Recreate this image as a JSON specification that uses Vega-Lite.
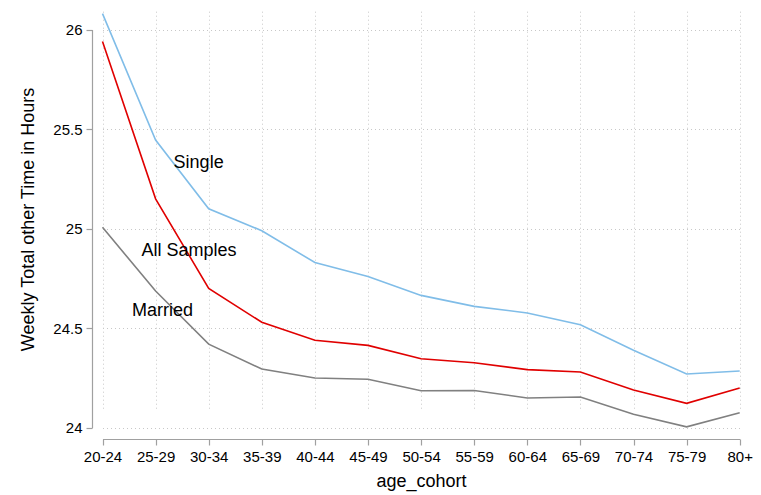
{
  "$schema": "https://vega.github.io/schema/vega-lite/v6.json",
  "autosize": "none",
  "width": 665,
  "height": 439,
  "padding": {"left": 92, "top": 0, "right": 4, "bottom": 56},
  "background": "#ffffff",
  "config": {
    "view": {"stroke": null},
    "font": "Liberation Sans",
    "axis": {
      "domainColor": "#a0a0a0",
      "domainWidth": 1.2,
      "tickColor": "#a0a0a0",
      "tickWidth": 1.2,
      "tickSize": 6,
      "labelFont": "Liberation Sans",
      "labelFontSize": 15,
      "labelColor": "#000000",
      "labelPadding": 4,
      "titleFont": "Liberation Sans",
      "titleFontSize": 18,
      "titleFontWeight": "normal",
      "titleColor": "#000000",
      "gridColor": "#c8c8c8",
      "gridDash": [1, 3],
      "gridWidth": 1
    }
  },
  "datasets": {
    "hours": [
      {"age_cohort": "20-24", "group": "Single", "hours": 26.08},
      {"age_cohort": "25-29", "group": "Single", "hours": 25.445},
      {"age_cohort": "30-34", "group": "Single", "hours": 25.10},
      {"age_cohort": "35-39", "group": "Single", "hours": 24.99},
      {"age_cohort": "40-44", "group": "Single", "hours": 24.83},
      {"age_cohort": "45-49", "group": "Single", "hours": 24.76},
      {"age_cohort": "50-54", "group": "Single", "hours": 24.665},
      {"age_cohort": "55-59", "group": "Single", "hours": 24.61},
      {"age_cohort": "60-64", "group": "Single", "hours": 24.577},
      {"age_cohort": "65-69", "group": "Single", "hours": 24.518},
      {"age_cohort": "70-74", "group": "Single", "hours": 24.39},
      {"age_cohort": "75-79", "group": "Single", "hours": 24.27},
      {"age_cohort": "80+", "group": "Single", "hours": 24.285},
      {"age_cohort": "20-24", "group": "All Samples", "hours": 25.94},
      {"age_cohort": "25-29", "group": "All Samples", "hours": 25.15},
      {"age_cohort": "30-34", "group": "All Samples", "hours": 24.70},
      {"age_cohort": "35-39", "group": "All Samples", "hours": 24.53},
      {"age_cohort": "40-44", "group": "All Samples", "hours": 24.44},
      {"age_cohort": "45-49", "group": "All Samples", "hours": 24.414},
      {"age_cohort": "50-54", "group": "All Samples", "hours": 24.347},
      {"age_cohort": "55-59", "group": "All Samples", "hours": 24.327},
      {"age_cohort": "60-64", "group": "All Samples", "hours": 24.292},
      {"age_cohort": "65-69", "group": "All Samples", "hours": 24.28},
      {"age_cohort": "70-74", "group": "All Samples", "hours": 24.19},
      {"age_cohort": "75-79", "group": "All Samples", "hours": 24.123},
      {"age_cohort": "80+", "group": "All Samples", "hours": 24.20},
      {"age_cohort": "20-24", "group": "Married", "hours": 25.007},
      {"age_cohort": "25-29", "group": "Married", "hours": 24.687},
      {"age_cohort": "30-34", "group": "Married", "hours": 24.42},
      {"age_cohort": "35-39", "group": "Married", "hours": 24.295},
      {"age_cohort": "40-44", "group": "Married", "hours": 24.25},
      {"age_cohort": "45-49", "group": "Married", "hours": 24.244},
      {"age_cohort": "50-54", "group": "Married", "hours": 24.186},
      {"age_cohort": "55-59", "group": "Married", "hours": 24.187},
      {"age_cohort": "60-64", "group": "Married", "hours": 24.15},
      {"age_cohort": "65-69", "group": "Married", "hours": 24.155},
      {"age_cohort": "70-74", "group": "Married", "hours": 24.068},
      {"age_cohort": "75-79", "group": "Married", "hours": 24.005},
      {"age_cohort": "80+", "group": "Married", "hours": 24.076}
    ],
    "notes": [
      {"age_cohort": "25-29", "label": "Single", "hours": 25.33},
      {"age_cohort": "20-24", "label": "All Samples", "hours": 24.888},
      {"age_cohort": "20-24", "label": "Married", "hours": 24.588}
    ]
  },
  "encoding": {
    "x": {
      "field": "age_cohort",
      "type": "ordinal",
      "sort": null,
      "scale": {"type": "point", "padding": 0, "range": [10.5, 647.7]},
      "axis": {
        "title": "age_cohort",
        "labelAngle": 0,
        "grid": true,
        "titleX": 329,
        "titleY": 47,
        "titleBaseline": "alphabetic"
      }
    },
    "y": {
      "field": "hours",
      "type": "quantitative",
      "scale": {"domain": [24, 26], "nice": false, "zero": false, "range": [427.8, 29.6]},
      "axis": {
        "title": "Weekly Total other Time in Hours",
        "values": [24, 24.5, 25, 25.5, 26],
        "format": "~g",
        "grid": true,
        "titleX": -64,
        "titleY": 219,
        "titleAngle": -90,
        "titleAlign": "center",
        "titleBaseline": "middle"
      }
    }
  },
  "layer": [
    {
      "data": {"name": "hours"},
      "mark": {"type": "line", "strokeWidth": 1.6, "clip": false},
      "encoding": {
        "color": {
          "field": "group",
          "type": "nominal",
          "scale": {
            "domain": ["Single", "All Samples", "Married"],
            "range": ["#80bde8", "#e00000", "#808080"]
          },
          "legend": null
        }
      }
    },
    {
      "data": {"name": "notes"},
      "transform": [{"filter": "datum.label === 'Single'"}],
      "mark": {"type": "text", "align": "left", "baseline": "middle", "dx": 18, "fontSize": 18, "color": "#000000"},
      "encoding": {"text": {"field": "label"}}
    },
    {
      "data": {"name": "notes"},
      "transform": [{"filter": "datum.label === 'All Samples'"}],
      "mark": {"type": "text", "align": "left", "baseline": "middle", "dx": 39, "fontSize": 18, "color": "#000000"},
      "encoding": {"text": {"field": "label"}}
    },
    {
      "data": {"name": "notes"},
      "transform": [{"filter": "datum.label === 'Married'"}],
      "mark": {"type": "text", "align": "left", "baseline": "middle", "dx": 29.5, "fontSize": 18, "color": "#000000"},
      "encoding": {"text": {"field": "label"}}
    }
  ]
}
